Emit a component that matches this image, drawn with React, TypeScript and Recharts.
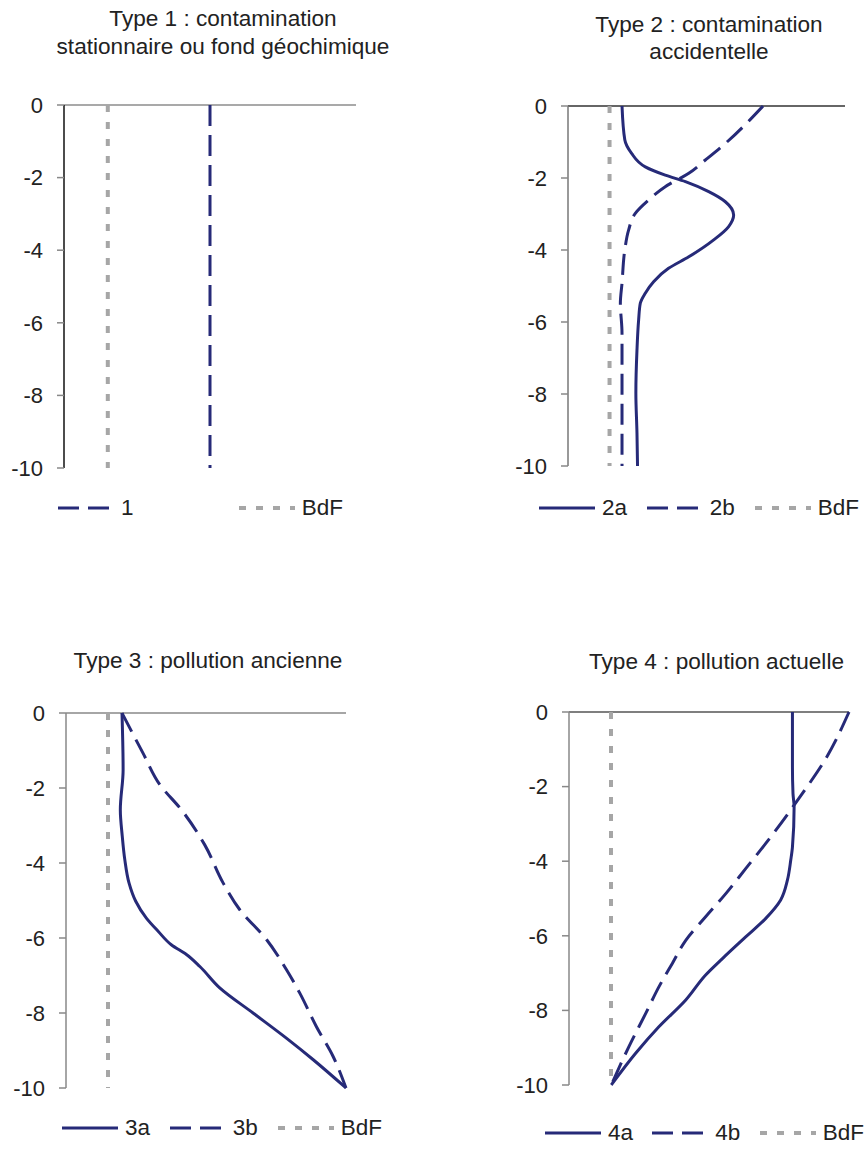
import { LineChart, Line, XAxis, YAxis, ReferenceLine, Legend } from 'recharts'

const NAVY = '#262a78'
const GREY = '#a6a6a6'
const FONT = '"Liberation Sans", Arial, sans-serif'

const depthTicks = [0, -2, -4, -6, -8, -10]

// fond géochimique (BdF), same in every panel
const bdfDepth = [0, -10]
const bdfValues = [1.5, 1.5]

// Type 1
const t1Depth = [0, -10]
const t1Values = [5, 5]

// Type 2
const t2aDepth = [0, -0.94, -1.31, -1.69, -1.92, -2.1, -2.38, -2.66, -3.03, -3.35, -3.72, -4.19, -4.51, -4.88, -5.2, -5.48, -5.94, -6.78, -7.98, -9.08, -10]
const t2aValues = [1.95, 2.05, 2.29, 2.79, 3.51, 4.24, 5.08, 5.68, 5.98, 5.8, 5.26, 4.36, 3.63, 3.09, 2.79, 2.61, 2.55, 2.49, 2.45, 2.49, 2.51]
const t2bDepth = [0, -1.04, -1.5, -1.87, -2.24, -2.61, -2.98, -3.44, -4.0, -4.92, -5.48, -6.31, -10]
const t2bValues = [7.04, 5.68, 4.96, 4.36, 3.51, 2.91, 2.43, 2.19, 2.05, 1.95, 1.89, 1.95, 1.95]

// Type 3
const t3aDepth = [0, -1.51, -2.58, -3.29, -3.91, -4.53, -5.02, -5.47, -5.82, -6.18, -6.44, -6.76, -7.33, -8.0, -8.67, -9.24, -10]
const t3aValues = [2.0, 2.04, 1.94, 2.01, 2.1, 2.25, 2.49, 2.87, 3.29, 3.76, 4.3, 4.78, 5.49, 6.68, 7.87, 8.82, 10]
const t3bDepth = [0, -1.07, -1.91, -2.58, -3.51, -4.53, -5.24, -6.04, -6.84, -7.47, -8.36, -9.16, -10]
const t3bValues = [2.0, 2.75, 3.35, 4.12, 4.95, 5.61, 6.2, 7.16, 7.87, 8.35, 8.94, 9.54, 10]

// Type 4
const t4aDepth = [0, -1.47, -2.19, -2.54, -3.62, -3.97, -4.51, -5.04, -5.54, -6.03, -6.61, -7.05, -7.72, -8.44, -9.15, -10]
const t4aValues = [7.98, 7.98, 8.0, 8.04, 7.98, 7.92, 7.8, 7.56, 7.02, 6.31, 5.48, 4.88, 4.17, 3.21, 2.38, 1.51]
const t4bDepth = [0, -1.25, -2.19, -3.53, -4.2, -4.87, -5.49, -6.12, -6.74, -7.37, -8.08, -8.97, -10]
const t4bValues = [10, 9.17, 8.33, 7.02, 6.31, 5.6, 4.88, 4.17, 3.69, 3.21, 2.74, 2.14, 1.51]

const toRows = (depths: number[], values: number[]) =>
  depths.map((d, i) => ({ depth: d, v: values[i] }))

interface SeriesDef {
  name: string
  depths: number[]
  values: number[]
  color: string
  width: number
  dash?: string
}

const solid = (name: string, depths: number[], values: number[]): SeriesDef => ({ name, depths, values, color: NAVY, width: 3 })
const dashed = (name: string, depths: number[], values: number[]): SeriesDef => ({ name, depths, values, color: NAVY, width: 3, dash: '21 9' })
const bdf: SeriesDef = { name: 'BdF', depths: bdfDepth, values: bdfValues, color: GREY, width: 4, dash: '7 10' }

function LegendRow({ items }: { items: SeriesDef[] }) {
  return (
    <div style={{ display: 'flex', justifyContent: 'space-between', alignItems: 'center', height: 28, fontFamily: FONT, fontSize: 22.5, color: '#222' }}>
      {items.map((s) => (
        <div key={s.name} style={{ display: 'flex', alignItems: 'center' }}>
          <svg width={56} height={10} style={{ marginRight: 7 }}>
            <line x1={0} y1={5} x2={56} y2={5} stroke={s.color} strokeWidth={s.width} strokeDasharray={s.dash} />
          </svg>
          <span>{s.name}</span>
        </div>
      ))}
    </div>
  )
}

interface PanelProps {
  left: number
  top: number
  height: number
  margin: { top: number; right: number; bottom: number; left: number }
  series: SeriesDef[]
  axisColor: string
  zeroColor: string
  legendBox: { left: number; top: number; width: number }
}

function Panel({ left, top, height, margin, series, axisColor, zeroColor, legendBox }: PanelProps) {
  const ordered = [bdf, ...series]
  return (
    <div style={{ position: 'absolute', left, top }}>
      <LineChart layout="vertical" width={432} height={height} margin={margin}>
        <XAxis type="number" domain={[0, 10]} hide />
        <YAxis
          type="number"
          dataKey="depth"
          domain={[-10, 0]}
          reversed
          ticks={depthTicks}
          interval={0}
          width={64}
          tickSize={7}
          tickMargin={14}
          axisLine={{ stroke: axisColor, strokeWidth: 1.5 }}
          tickLine={{ stroke: '#888', strokeWidth: 1.5 }}
          tick={{ fill: '#222', fontSize: 22, fontFamily: FONT }}
        />
        <ReferenceLine y={0} stroke={zeroColor} strokeWidth={1.5} />
        {ordered.map((s) => (
          <Line
            key={s.name}
            name={s.name}
            data={toRows(s.depths, s.values)}
            dataKey="v"
            type="monotone"
            stroke={s.color}
            strokeWidth={s.width}
            strokeDasharray={s.dash}
            dot={false}
            activeDot={false}
            isAnimationActive={false}
          />
        ))}
        <Legend
          layout="horizontal"
          verticalAlign="middle"
          wrapperStyle={{ left: legendBox.left, top: legendBox.top, width: legendBox.width }}
          content={() => <LegendRow items={[...series, bdf]} />}
        />
      </LineChart>
    </div>
  )
}

function Title({ lines, center, top, lineHeight }: { lines: string[]; center: number; top: number; lineHeight: number }) {
  return (
    <div style={{ position: 'absolute', left: center - 216, top, width: 432, textAlign: 'center', fontFamily: FONT, fontSize: 22.6, lineHeight: `${lineHeight}px`, color: '#222' }}>
      {lines.map((l) => (
        <div key={l}>{l}</div>
      ))}
    </div>
  )
}

export default function App() {
  return (
    <div style={{ position: 'absolute', left: 0, top: 0, width: 864, height: 1162, background: '#fff', overflow: 'hidden' }}>
      <Title lines={['Type 1 : contamination', 'stationnaire ou fond géochimique']} center={223} top={5} lineHeight={28} />
      <Title lines={['Type 2 : contamination', 'accidentelle']} center={709} top={10.5} lineHeight={27.5} />
      <Title lines={['Type 3 : pollution ancienne']} center={208} top={647} lineHeight={28} />
      <Title lines={['Type 4 : pollution actuelle']} center={716.5} top={648} lineHeight={28} />

      <Panel
        left={0}
        top={0}
        height={560}
        margin={{ top: 105, right: 76, bottom: 92, left: 0 }}
        series={[dashed('1', t1Depth, t1Values)]}
        axisColor="#111"
        zeroColor="#8c8c8c"
        legendBox={{ left: 58, top: 494, width: 285 }}
      />
      <Panel
        left={432}
        top={0}
        height={560}
        margin={{ top: 106, right: 19, bottom: 94, left: 72 }}
        series={[solid('2a', t2aDepth, t2aValues), dashed('2b', t2bDepth, t2bValues)]}
        axisColor="#777"
        zeroColor="#333"
        legendBox={{ left: 107, top: 494, width: 320 }}
      />
      <Panel
        left={0}
        top={580}
        height={582}
        margin={{ top: 133, right: 86, bottom: 74, left: 2 }}
        series={[solid('3a', t3aDepth, t3aValues), dashed('3b', t3bDepth, t3bValues)]}
        axisColor="#888"
        zeroColor="#888"
        legendBox={{ left: 62, top: 534, width: 320 }}
      />
      <Panel
        left={432}
        top={580}
        height={582}
        margin={{ top: 132, right: 15, bottom: 77, left: 73 }}
        series={[solid('4a', t4aDepth, t4aValues), dashed('4b', t4bDepth, t4bValues)]}
        axisColor="#888"
        zeroColor="#555"
        legendBox={{ left: 113, top: 539, width: 319 }}
      />
    </div>
  )
}
